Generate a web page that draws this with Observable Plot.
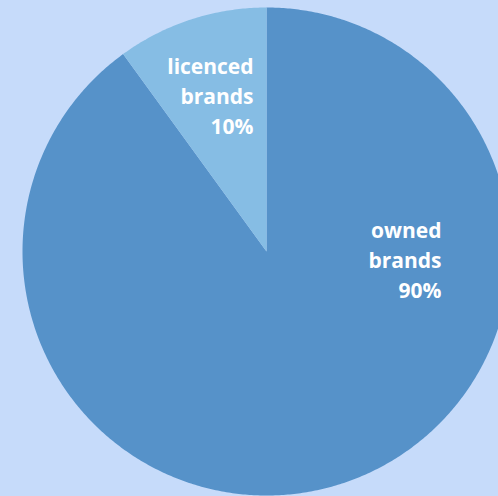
<!DOCTYPE html>
<html><head><meta charset="utf-8">
<script src="https://cdn.jsdelivr.net/npm/d3@7"></script>
<script src="https://cdn.jsdelivr.net/npm/@observablehq/plot@0.6"></script>
<style>
html,body{margin:0;padding:0;background:#c6dbfa;}
#chart{width:498px;height:496px;overflow:hidden;}
</style></head>
<body><div id="chart"></div>
<script>
const categories = ["owned brands", "licenced brands"];
const shares = [90, 10];
const colors = ["#5692c9", "#86bde4"];
const labelText = ["owned\nbrands\n90%", "licenced\nbrands\n10%"];

// geometry (pixel layout)
const W = 498, H = 496, cx = 266, cy = 251, R = 244;
// label polar positions (fraction of radius, degrees clockwise from top)
const labelPos = [[0.718, 92.4], [0.648, -4.7]];

const total = d3.sum(shares);
const pts = [];
let a0 = 0;
categories.forEach((c, i) => {
  const span = shares[i] / total * 360;
  pts.push({cat: c, x: 0, y: 0});
  const n = Math.max(8, Math.ceil(span * 2));
  for (let k = 0; k <= n; k++) {
    const a = (a0 + span * k / n) * Math.PI / 180;
    pts.push({cat: c, x: Math.sin(a), y: Math.cos(a)});
  }
  pts.push({cat: c, x: 0, y: 0});
  a0 += span;
});
const labels = categories.map((c, i) => {
  const [r, d] = labelPos[i];
  const a = d * Math.PI / 180;
  return {cat: c, text: labelText[i], x: r * Math.sin(a), y: r * Math.cos(a)};
});

const plot = Plot.plot({
  width: W, height: H,
  margin: 0,
  style: {background: "#c6dbfa", overflow: "hidden"},
  x: {domain: [-cx / R, (W - cx) / R], axis: null},
  y: {domain: [(cy - H) / R, cy / R], axis: null},
  color: {domain: categories, range: colors},
  marks: [
    Plot.line(pts, {x: "x", y: "y", z: "cat", fill: "cat", stroke: "none", curve: "linear"}),
    Plot.text(labels, {x: "x", y: "y", text: "text", textAnchor: "end", lineAnchor: "middle", fill: "white",
      fontSize: 21, fontWeight: "bold", fontFamily: "'Open Sans', Lato, sans-serif", lineHeight: 1.43})
  ]
});
document.getElementById("chart").appendChild(plot);
</script></body></html>
